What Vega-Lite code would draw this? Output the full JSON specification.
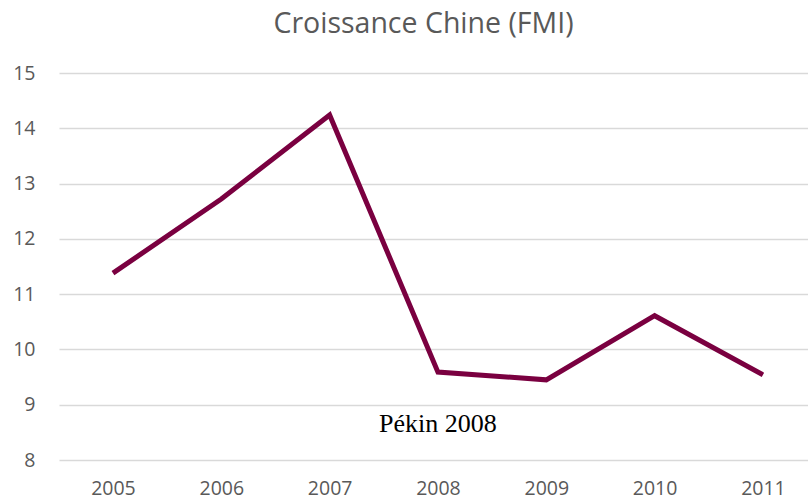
{
  "$schema": "https://vega.github.io/schema/vega-lite/v6.json",
  "autosize": "none",
  "width": 749,
  "height": 387,
  "padding": {"left": 59, "top": 73, "right": 0, "bottom": 41},
  "background": "white",
  "title": {
    "text": "Croissance Chine (FMI)",
    "font": "Open Sans",
    "fontSize": 28.5,
    "fontWeight": "normal",
    "color": "#595959",
    "anchor": "middle",
    "dx": -10,
    "offset": 25
  },
  "config": {"view": {"stroke": null}},
  "datasets": {
    "series": [
      {"year": "2005", "value": 11.38},
      {"year": "2006", "value": 12.72},
      {"year": "2007", "value": 14.24},
      {"year": "2008", "value": 9.59},
      {"year": "2009", "value": 9.45},
      {"year": "2010", "value": 10.61},
      {"year": "2011", "value": 9.54}
    ],
    "notes": [
      {"year": "2008", "value": 8.51, "label": "Pékin 2008"}
    ]
  },
  "encoding": {
    "x": {
      "field": "year", "type": "ordinal",
      "scale": {"type": "point", "padding": 0.457, "align": 0.545},
      "axis": {"title": null, "domain": false, "ticks": false, "labelAngle": 0, "labelFont": "Open Sans", "labelFontSize": 19.5, "labelColor": "#595959", "labelPadding": 19}
    },
    "y": {
      "field": "value", "type": "quantitative",
      "scale": {"domain": [8, 15], "nice": false, "zero": false},
      "axis": {"title": null, "domain": false, "ticks": false, "values": [8,9,10,11,12,13,14,15], "labelFont": "Open Sans", "labelFontSize": 19.5, "labelColor": "#595959", "labelPadding": 24, "gridColor": "#d9d9d9", "gridWidth": 1.5}
    }
  },
  "layer": [
    {
      "data": {"name": "series"},
      "mark": {"type": "line", "color": "#7a0040", "strokeWidth": 5, "strokeJoin": "miter"}
    },
    {
      "data": {"name": "notes"},
      "mark": {"type": "text", "font": "Liberation Serif", "fontSize": 26, "color": "#000000", "align": "center", "baseline": "alphabetic"},
      "encoding": {"text": {"field": "label"}}
    }
  ]
}
